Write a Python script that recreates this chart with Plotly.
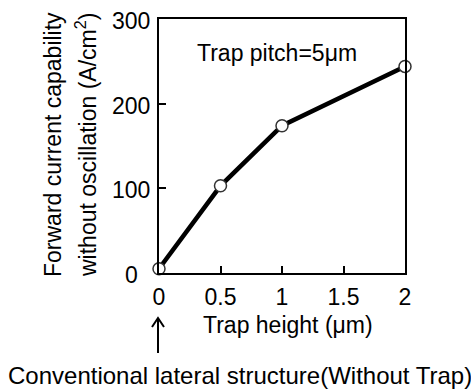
import plotly.graph_objects as go

trap_height = [0, 0.5, 1, 2]
current_capability = [5, 103, 174, 244]
x_ticks = [0, 0.5, 1, 1.5, 2]
x_tick_labels = ["0", "0.5", "1", "1.5", "2"]
y_ticks = [0, 100, 200, 300]
y_tick_labels = ["0", "100", "200", "300"]

W, H = 471, 392
L, R, T, B = 159, 405, 19, 273
FONT = "Arial, Liberation Sans, sans-serif"
FS = 23

def px(xp):
    return (xp - L) / (R - L)

def py(yp):
    return (B - yp) / (B - T)

fig = go.Figure()
fig.add_trace(go.Scatter(
    x=trap_height, y=current_capability, mode="lines+markers",
    line=dict(color="black", width=4.5),
    marker=dict(size=12, color="white", line=dict(color="#333333", width=1.5)),
    cliponaxis=False, showlegend=False,
))

fig.update_layout(
    width=W, height=H,
    margin=dict(l=L, r=W - R, t=T, b=H - B, pad=0),
    paper_bgcolor="white", plot_bgcolor="white",
    font=dict(family=FONT, size=FS, color="black"),
    xaxis=dict(range=[0, 2], tickvals=x_ticks, ticktext=x_tick_labels,
               showline=True, linecolor="black", linewidth=2, mirror=True,
               ticks="inside", ticklen=7, tickwidth=2, tickcolor="black",
               showgrid=False, zeroline=False, ticklabelstandoff=2),
    yaxis=dict(range=[0, 300], tickvals=y_ticks, showticklabels=False,
               showline=True, linecolor="black", linewidth=2, mirror=True,
               ticks="inside", ticklen=7, tickwidth=2, tickcolor="black",
               showgrid=False, zeroline=False),
)

def note(text, xp, yp, angle=0, size=FS):
    return dict(text=text, x=px(xp), y=py(yp), xref="paper", yref="paper",
                xanchor="center", yanchor="middle", showarrow=False,
                textangle=angle, font=dict(size=size))

ann = [
    note("Trap pitch=5\u03bcm", 277, 53),
    note("Trap height (\u03bcm)", 288, 325),
    note("Conventional lateral structure(Without Trap)", 240, 375, size=24),
    note("Forward current capability", 53, 145, -90),
    note("without oscillation (A/cm<sup>2</sup>)", 86, 145, -90),
]
# centred y tick labels placed through the y scale
for v, lab in zip(y_ticks, y_tick_labels):
    ann.append(dict(text=lab, x=px(131), y=v, xref="paper", yref="y",
                    xanchor="center", yanchor="middle", yshift=-2,
                    showarrow=False, font=dict(size=FS)))
fig.update_layout(annotations=ann)

ax = px(158)
fig.add_shape(type="line", xref="paper", yref="paper", x0=ax, x1=ax, y0=py(318), y1=py(353),
              line=dict(color="black", width=2))
fig.add_shape(type="path", xref="paper", yref="paper",
              path=f"M {px(152)},{py(327)} L {ax},{py(318)} L {px(164)},{py(327)}",
              line=dict(color="black", width=2))

fig.write_html("out.html")
